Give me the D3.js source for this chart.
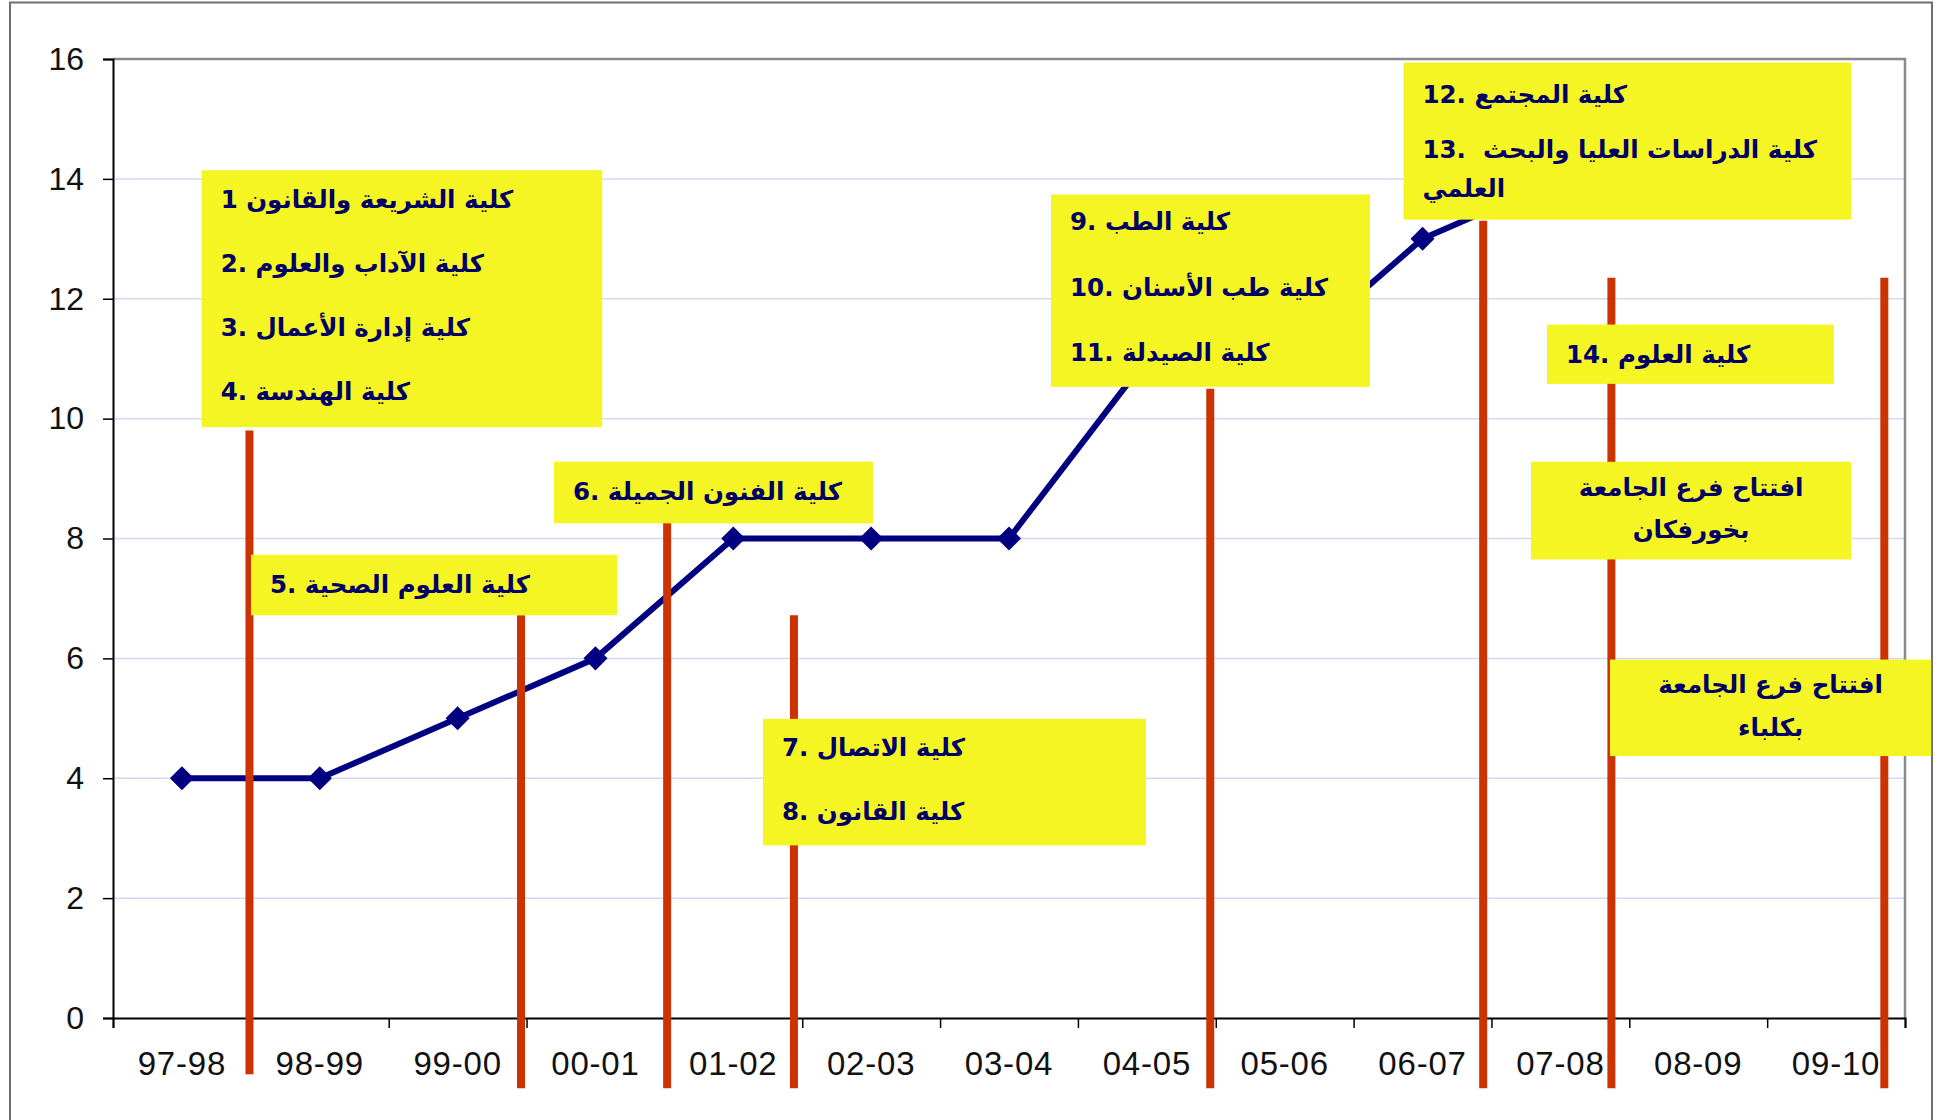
<!DOCTYPE html>
<html>
<head>
<meta charset="utf-8">
<script src="https://cdn.jsdelivr.net/npm/d3@7"></script>
<style>
    body { margin: 0; background: #fff; }
    svg { display: block; }
    .note text { font-family: "DejaVu Sans", sans-serif; font-weight: bold; fill: #000066; white-space: pre; }
</style>
</head>
<body>
<script>
const years = ['97-98', '98-99', '99-00', '00-01', '01-02', '02-03', '03-04', '04-05', '05-06', '06-07', '07-08', '08-09', '09-10'];
const colleges = [4, 4, 5, 6, 8, 8, 8, 11, 11, 13, 14, 14, 14];
const yTicks = [0, 2, 4, 6, 8, 10, 12, 14, 16];

// red milestone lines: where they sit in year units (0 = start of 97-98), and their extent in counts
const milestoneAt = [0.99, 2.96, 4.02, 4.94, 7.96, 9.94, 10.87, 12.85];
const milestoneFrom = [-0.94, -1.17, -1.17, -1.17, -1.17, -1.17, -1.17, -1.17];
const milestoneTo = [9.8, 6.72, 8.27, 6.72, 10.5, 13.3, 12.35, 12.35];

// yellow notes
const noteText = [
    ['1 كلية الشريعة والقانون', '2. كلية الآداب والعلوم', '3. كلية إدارة الأعمال', '4. كلية الهندسة'],
    ['5. كلية العلوم الصحية'],
    ['6. كلية الفنون الجميلة'],
    ['7. كلية الاتصال', '8. كلية القانون'],
    ['9. كلية الطب', '10. كلية طب الأسنان', '11. كلية الصيدلة'],
    ['12. كلية المجتمع', '13.  كلية الدراسات العليا والبحث', 'العلمي'],
    ['14. كلية العلوم'],
    ['افتتاح فرع الجامعة', 'بخورفكان'],
    ['افتتاح فرع الجامعة', 'بكلباء']
];
const noteYears = [[0.643, 3.549], [1.001, 3.656], [3.199, 5.513], [4.715, 7.494], [6.805, 9.119], [9.362, 12.608], [10.403, 12.484], [10.287, 12.608], [10.86, 13.19]];
const noteCounts = [[9.857, 14.145], [6.72, 7.729], [8.253, 9.283], [2.88, 4.991], [10.53, 13.74], [13.32, 15.94], [10.58, 11.57], [7.65, 9.28], [4.37, 5.98]];

// layout of the text rows inside each note (px from the note's top edge)
const noteRows = [[37.5, 101.5, 165.5, 229.5], [38], [38], [37, 101], [36, 102, 167], [40, 95.6, 134], [38], [34, 76], [33, 76]];
const noteCentred = [false, false, false, false, false, false, false, true, true];

const W = 1939, H = 1120;
const plot = { left: 113, right: 1905, top: 59, bottom: 1018 };
const navy = '#000080', red = '#cc3300', yellow = '#f5f523';

const svg = d3.select('body').append('svg')
    .attr('width', W)
    .attr('height', H);

const xBand = d3.scaleBand().domain(years).range([plot.left, plot.right]);
const xPos = d3.scaleLinear().domain([0, years.length]).range([plot.left, plot.right]);
const y = d3.scaleLinear().domain([0, 16]).range([plot.bottom, plot.top]);

// outer frame
svg.append('rect')
    .attr('x', 10).attr('y', 2.5)
    .attr('width', 1922).attr('height', 1140)
    .attr('fill', 'none')
    .attr('stroke', '#6f6f6f')
    .attr('stroke-width', 2);

// gridlines
svg.append('g').selectAll('line')
    .data(yTicks.filter(t => t > 0 && t < 16))
    .join('line')
    .attr('x1', plot.left).attr('x2', plot.right)
    .attr('y1', d => y(d)).attr('y2', d => y(d))
    .attr('stroke', '#d6d6f5')
    .attr('stroke-width', 1.5);

// top and right edge of the plot area
svg.append('path')
    .attr('d', `M${plot.left},${y(16)}H${plot.right}V${plot.bottom}`)
    .attr('fill', 'none')
    .attr('stroke', '#8a8a8a')
    .attr('stroke-width', 2.5);

// y axis
const yAxis = svg.append('g')
    .attr('transform', `translate(${plot.left},0)`)
    .call(d3.axisLeft(y).tickValues(yTicks).tickSize(10).tickPadding(19))
    .attr('font-size', 32)
    .attr('font-family', '"Liberation Sans", Arial, sans-serif');
yAxis.select('.domain').attr('stroke', '#000').attr('stroke-width', 2);
yAxis.selectAll('.tick line').attr('stroke', '#000').attr('stroke-width', 1.5);
yAxis.selectAll('.tick text').attr('fill', '#111');

// x axis: ticks sit on the year boundaries
const xAxis = svg.append('g')
    .attr('transform', `translate(0,${plot.bottom})`)
    .call(d3.axisBottom(xPos).tickValues(d3.range(years.length + 1)).tickSize(10).tickFormat(''));
xAxis.select('.domain').attr('stroke', '#000').attr('stroke-width', 2);
xAxis.selectAll('.tick line').attr('stroke', '#000').attr('stroke-width', 1.5);

const xLabels = svg.append('g')
    .attr('transform', `translate(0,${plot.bottom})`)
    .call(d3.axisBottom(xBand).tickSize(0).tickPadding(34))
    .attr('font-size', 33)
    .attr('font-family', '"Liberation Sans", Arial, sans-serif');
xLabels.select('.domain').remove();
xLabels.selectAll('.tick text').attr('fill', '#111').attr('letter-spacing', 0.8);

// college count line
const points = years.map((yr, i) => ({ year: yr, n: colleges[i] }));
const cx = d => xBand(d.year) + xBand.bandwidth() / 2;

svg.append('path')
    .datum(points)
    .attr('d', d3.line().x(cx).y(d => y(d.n)))
    .attr('fill', 'none')
    .attr('stroke', navy)
    .attr('stroke-width', 6)
    .attr('stroke-linejoin', 'round');

svg.append('g').selectAll('path')
    .data(points)
    .join('path')
    .attr('d', d3.symbol(d3.symbolSquare, 290))
    .attr('transform', d => `translate(${cx(d)},${y(d.n)}) rotate(45)`)
    .attr('fill', navy);

// milestone lines
svg.append('g').selectAll('line')
    .data(milestoneAt)
    .join('line')
    .attr('x1', d => xPos(d)).attr('x2', d => xPos(d))
    .attr('y1', (d, i) => y(milestoneFrom[i]))
    .attr('y2', (d, i) => y(milestoneTo[i]))
    .attr('stroke', red)
    .attr('stroke-width', 8);

// notes
const notes = svg.append('g').selectAll('.note')
    .data(noteText.map((lines, i) => ({
        lines: lines,
        x0: xPos(noteYears[i][0]), x1: xPos(noteYears[i][1]),
        top: y(noteCounts[i][1]), bottom: y(noteCounts[i][0]),
        rows: noteRows[i], centred: noteCentred[i]
    })))
    .join('g')
    .attr('class', 'note');

notes.append('rect')
    .attr('x', d => d.x0)
    .attr('y', d => d.top)
    .attr('width', d => d.x1 - d.x0)
    .attr('height', d => d.bottom - d.top)
    .attr('fill', yellow);

notes.each(function (d) {
    d3.select(this).selectAll('text')
        .data(d.lines)
        .join('text')
        .attr('direction', 'ltr')
        .attr('x', d.centred ? (d.x0 + d.x1) / 2 : d.x0 + 19)
        .attr('y', (t, j) => d.top + d.rows[j])
        .attr('text-anchor', d.centred ? 'middle' : 'start')
        .attr('font-size', 24.5)
        .text(t => t);
});
</script>
</body>
</html>
